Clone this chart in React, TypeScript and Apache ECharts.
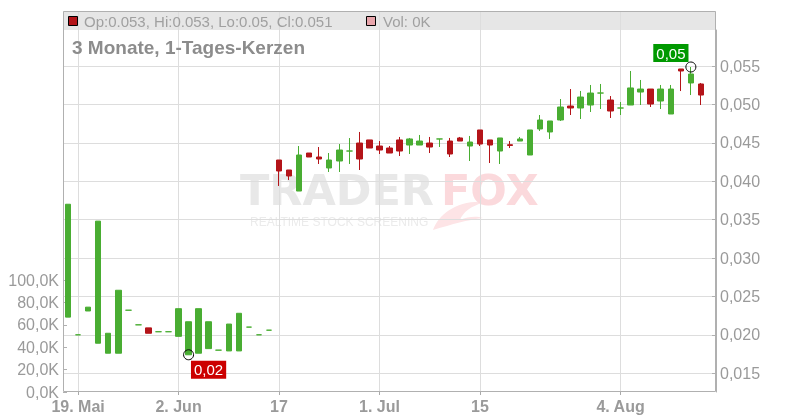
import React, { useEffect, useRef } from 'react';
import * as echarts from 'echarts';

// Trading days (one empty slot at the end, as in the reference)
const dates = [
  '2025-05-16', '2025-05-19', '2025-05-20', '2025-05-21', '2025-05-22', '2025-05-23',
  '2025-05-26', '2025-05-27', '2025-05-28', '2025-05-29', '2025-05-30',
  '2025-06-02', '2025-06-03', '2025-06-04', '2025-06-05', '2025-06-06',
  '2025-06-10', '2025-06-11', '2025-06-12', '2025-06-13',
  '2025-06-16', '2025-06-17', '2025-06-18', '2025-06-19', '2025-06-20',
  '2025-06-23', '2025-06-24', '2025-06-25', '2025-06-26', '2025-06-27',
  '2025-06-30', '2025-07-01', '2025-07-02', '2025-07-03', '2025-07-04',
  '2025-07-07', '2025-07-08', '2025-07-09', '2025-07-10', '2025-07-11',
  '2025-07-14', '2025-07-15', '2025-07-16', '2025-07-17', '2025-07-18',
  '2025-07-21', '2025-07-22', '2025-07-23', '2025-07-24', '2025-07-25',
  '2025-07-28', '2025-07-29', '2025-07-30', '2025-07-31', '2025-08-01',
  '2025-08-04', '2025-08-05', '2025-08-06', '2025-08-07', '2025-08-08',
  '2025-08-11', '2025-08-12', '2025-08-13', '2025-08-14', '2025-08-15',
];

const openPrices = [
  0.0223, 0.0200, 0.0231, 0.0189, 0.0176, 0.0176, 0.0232, 0.0213, 0.0209, 0.0204,
  0.0204, 0.0198, 0.0174, 0.0176, 0.0182, 0.0180, 0.0179, 0.0179, 0.0210, 0.0200,
  0.0206, 0.04276, 0.04146, 0.03872, 0.04367, 0.04315, 0.04172, 0.04263, 0.04393, 0.04497,
  0.04537, 0.04458, 0.04432, 0.04537, 0.04471, 0.04471, 0.04497, 0.0455, 0.04523, 0.04563,
  0.04458, 0.04667, 0.04537, 0.04393, 0.04475, 0.04523, 0.04341, 0.0468, 0.04641, 0.04797,
  0.04979, 0.04953, 0.04992, 0.05148, 0.05057, 0.04953, 0.04992, 0.05161, 0.052, 0.05044,
  0.04875, 0.05461, 0.05279, 0.05266,
];
const closePrices = [
  0.0370, 0.0200, 0.0236, 0.0348, 0.0202, 0.0258, 0.0232, 0.0213, 0.0202, 0.0204,
  0.0204, 0.0234, 0.0217, 0.0234, 0.0217, 0.0180, 0.0214, 0.0228, 0.0210, 0.0200,
  0.0206, 0.04133, 0.04068, 0.04341, 0.04315, 0.04289, 0.04276, 0.04406, 0.04393, 0.04289,
  0.04432, 0.04406, 0.04367, 0.04393, 0.0455, 0.04523, 0.04445, 0.0455, 0.04354, 0.04523,
  0.0451, 0.04484, 0.04471, 0.04563, 0.04465, 0.0455, 0.04667, 0.04797, 0.04784, 0.04966,
  0.04953, 0.05096, 0.05148, 0.05148, 0.04914, 0.04953, 0.05214, 0.052, 0.05005, 0.052,
  0.052, 0.05435, 0.05396, 0.05122,
];
const lowPrices = [
  0.0223, 0.0200, 0.0231, 0.0189, 0.0176, 0.0176, 0.0232, 0.0213, 0.0202, 0.0204,
  0.0204, 0.0198, 0.0174, 0.0176, 0.0182, 0.0180, 0.0179, 0.0179, 0.0210, 0.0200,
  0.0206, 0.03938, 0.04016, 0.03872, 0.04315, 0.04224, 0.0412, 0.0412, 0.04224, 0.04146,
  0.04432, 0.04354, 0.04367, 0.04328, 0.04354, 0.04471, 0.04367, 0.04445, 0.04315, 0.04523,
  0.04263, 0.04458, 0.04237, 0.04224, 0.04432, 0.04523, 0.04341, 0.04654, 0.0455, 0.04784,
  0.04862, 0.0481, 0.04901, 0.0494, 0.04823, 0.04862, 0.04992, 0.04992, 0.04966, 0.0494,
  0.04875, 0.05174, 0.05122, 0.04992,
];
const highPrices = [
  0.0370, 0.0200, 0.0236, 0.0348, 0.0202, 0.0258, 0.0232, 0.0213, 0.0209, 0.0204,
  0.0204, 0.0234, 0.0217, 0.0234, 0.0217, 0.0180, 0.0214, 0.0228, 0.0210, 0.0200,
  0.0206, 0.04276, 0.04146, 0.04458, 0.04367, 0.04445, 0.04367, 0.04484, 0.04562, 0.04641,
  0.04537, 0.04523, 0.04458, 0.04576, 0.04563, 0.04602, 0.04576, 0.0455, 0.04563, 0.04576,
  0.04589, 0.04667, 0.04537, 0.04563, 0.04523, 0.04576, 0.04667, 0.04862, 0.04784, 0.0507,
  0.052, 0.05175, 0.05253, 0.05266, 0.05109, 0.05031, 0.05435, 0.05318, 0.052, 0.05253,
  0.05253, 0.05461, 0.05487, 0.05279,
];

const tickDates = ['2025-05-19', '2025-06-02', '2025-06-17', '2025-07-01', '2025-07-15', '2025-08-04'];
const tickLabels = ['19. Mai', '2. Jun', '17', '1. Jul', '15', '4. Aug'];

const lastVolume = 0;
const chartTitle = '3 Monate, 1-Tages-Kerzen';

const UP = '#49ad32';
const DOWN = '#b41419';
const FONT = '"Liberation Sans", Arial, sans-serif';

const TAIL = 'M0 32 C 6 16, 24 2, 52 4 C 38 8, 30 14, 27 22 C 36 18, 44 18, 50 20 C 34 22, 20 26, 0 32 Z';
let tailRegistered = false;

export default function App() {
  const ref = useRef<HTMLDivElement>(null);

  useEffect(() => {
    if (!tailRegistered) {
      echarts.graphic.registerShape('foxtail', echarts.graphic.extendPath(TAIL, {}));
      tailRegistered = true;
    }
    const chart = echarts.init(ref.current!, null, { renderer: 'svg' });
    const tickSet = new Set(tickDates);
    const labelOf: Record<string, string> = {};
    tickDates.forEach((d, i) => (labelOf[d] = tickLabels[i]));
    const isTick = (_i: number, v: string) => tickSet.has(v);

    const candles = openPrices.map((o, i) => {
      const item: any = { value: [o, closePrices[i], lowPrices[i], highPrices[i]] };
      if (o === closePrices[i]) {
        item.itemStyle = { color: UP, color0: UP, borderColor: UP, borderColor0: UP };
      }
      return item;
    });

    const n = openPrices.length - 1;
    const fmt3 = (v: number) => String(+v.toFixed(3));
    const headerText = `Op:${fmt3(openPrices[n])}, Hi:${fmt3(highPrices[n])}, Lo:${fmt3(lowPrices[n])}, Cl:${fmt3(closePrices[n])}`;
    const volText = `Vol: ${Math.round(lastVolume / 1000)}K`;

    const gridPos = { left: 63, right: 84 };

    chart.setOption({
      animation: false,
      textStyle: { fontFamily: FONT },
      grid: [
        { ...gridPos, top: 30, bottom: 28 },
        { ...gridPos, top: 280, bottom: 28 },
        { ...gridPos, top: 11, bottom: 28 },
      ],
      xAxis: [
        { type: 'category', gridIndex: 0, data: dates, boundaryGap: true, show: false },
        { type: 'category', gridIndex: 1, data: dates, boundaryGap: true, show: false },
        {
          type: 'category',
          gridIndex: 2,
          data: dates,
          boundaryGap: true,
          axisLine: { show: false },
          axisTick: {
            show: true,
            alignWithLabel: true,
            interval: isTick,
            length: 3,
            lineStyle: { color: '#aaaaaa' },
          },
          axisLabel: {
            interval: isTick,
            formatter: (v: string) => labelOf[v] || '',
            fontSize: 16,
            fontWeight: 'bold',
            color: '#9a9a9a',
            margin: 6,
          },
          splitLine: {
            show: true,
            interval: isTick,
            alignWithLabel: true,
            lineStyle: { color: '#dddddd', width: 1 },
          },
        },
      ],
      yAxis: [
        {
          type: 'value',
          gridIndex: 0,
          position: 'right',
          min: 0.012552,
          max: 0.059688,
          splitNumber: 9,
          axisLine: { show: true, lineStyle: { color: '#b0b0b0' } },
          axisTick: { show: true, inside: true, length: 4, lineStyle: { color: '#b0b0b0' } },
          axisLabel: {
            showMinLabel: false,
            showMaxLabel: false,
            formatter: (v: number) => v.toFixed(3).replace('.', ','),
            color: '#9a9a9a',
            fontSize: 16,
            margin: 4,
          },
          splitLine: {
            show: true,
            showMinLine: false,
            showMaxLine: false,
            lineStyle: { color: '#dddddd' },
          },
        },
        {
          type: 'value',
          gridIndex: 1,
          position: 'left',
          min: 0,
          max: 100000,
          interval: 20000,
          axisLine: { show: false },
          axisTick: { show: true, inside: true, length: 4, lineStyle: { color: '#b0b0b0' } },
          axisLabel: {
            formatter: (v: number) => (v / 1000).toFixed(1).replace('.', ',') + 'K',
            color: '#9a9a9a',
            fontSize: 16,
            margin: 4,
          },
          splitLine: { show: false },
        },
        { type: 'value', gridIndex: 2, show: false, min: 0, max: 1 },
      ],
      graphic: [
        {
          type: 'rect',
          z: -10,
          silent: true,
          shape: { x: 63, y: 11, width: 653, height: 19 },
          style: { fill: '#e6e6e6' },
        },
        {
          type: 'text',
          z: -5,
          silent: true,
          x: 240,
          y: 190,
          style: {
            text: 'TRADER',
            font: `bold 43px "DejaVu Sans", ${FONT}`,
            lineHeight: 32,
            fill: '#e8e8e8',
            verticalAlign: 'middle',
          },
        },
        {
          type: 'text',
          z: -5,
          silent: true,
          x: 441,
          y: 190,
          style: {
            text: 'FOX',
            font: `bold 43px "DejaVu Sans", ${FONT}`,
            lineHeight: 32,
            fill: '#fbd9dc',
            verticalAlign: 'middle',
          },
        },
        {
          type: 'foxtail',
          z: -6,
          silent: true,
          shape: {},
          x: 433,
          y: 198,
          scaleX: 1,
          scaleY: 1,
          style: { fill: '#fde4e6' },
        },
        {
          type: 'text',
          z: -5,
          silent: true,
          x: 250,
          y: 222,
          style: {
            text: 'REALTIME STOCK SCREENING',
            font: `12px ${FONT}`,
            lineHeight: 12,
            fill: '#ebebeb',
            verticalAlign: 'middle',
          },
        },
        {
          type: 'rect',
          z: 10,
          silent: true,
          shape: { x: 63.5, y: 11.5, width: 652, height: 380 },
          style: { fill: 'none', stroke: '#b0b0b0', lineWidth: 1 },
        },
        {
          type: 'rect',
          z: 10,
          shape: { x: 68.5, y: 16.5, width: 9, height: 9 },
          style: { fill: DOWN, stroke: '#000', lineWidth: 1 },
        },
        {
          type: 'text',
          z: 10,
          x: 84,
          y: 21,
          style: { text: headerText, font: `15px ${FONT}`, fill: '#a0a0a0', verticalAlign: 'middle' },
        },
        {
          type: 'rect',
          z: 10,
          shape: { x: 366.5, y: 16.5, width: 9, height: 9 },
          style: { fill: '#e8a5ab', stroke: '#000', lineWidth: 1 },
        },
        {
          type: 'text',
          z: 10,
          x: 383,
          y: 21,
          style: { text: volText, font: `15px ${FONT}`, fill: '#a0a0a0', verticalAlign: 'middle' },
        },
        {
          type: 'text',
          z: 10,
          x: 72,
          y: 47,
          style: { text: chartTitle, font: `bold 19px ${FONT}`, fill: '#8c8c8c', verticalAlign: 'middle' },
        },
      ],
      series: [
        {
          type: 'candlestick',
          xAxisIndex: 0,
          yAxisIndex: 0,
          data: candles,
          barWidth: 6,
          itemStyle: {
            color: UP,
            color0: DOWN,
            borderColor: UP,
            borderColor0: DOWN,
            borderWidth: 1,
          },
          markPoint: {
            symbol: 'circle',
            symbolSize: 10,
            itemStyle: { color: 'transparent', borderColor: '#000', borderWidth: 1 },
            label: {
              show: true,
              position: 'inside',
              color: '#ffffff',
              fontSize: 15,
              padding: [2, 3, 1, 3],
              formatter: (p: any) => Number(p.value).toFixed(2).replace('.', ','),
            },
            data: [
              {
                type: 'max',
                valueDim: 'highest',
                label: { backgroundColor: '#009900', offset: [-20, -14] },
              },
              {
                type: 'min',
                valueDim: 'lowest',
                label: { backgroundColor: '#cc0000', offset: [20, 15] },
              },
            ],
          },
        },
      ],
    });

    return () => chart.dispose();
  }, []);

  return (
    <div
      ref={ref}
      style={{ position: 'fixed', left: 0, top: 0, width: 800, height: 420 }}
    />
  );
}
